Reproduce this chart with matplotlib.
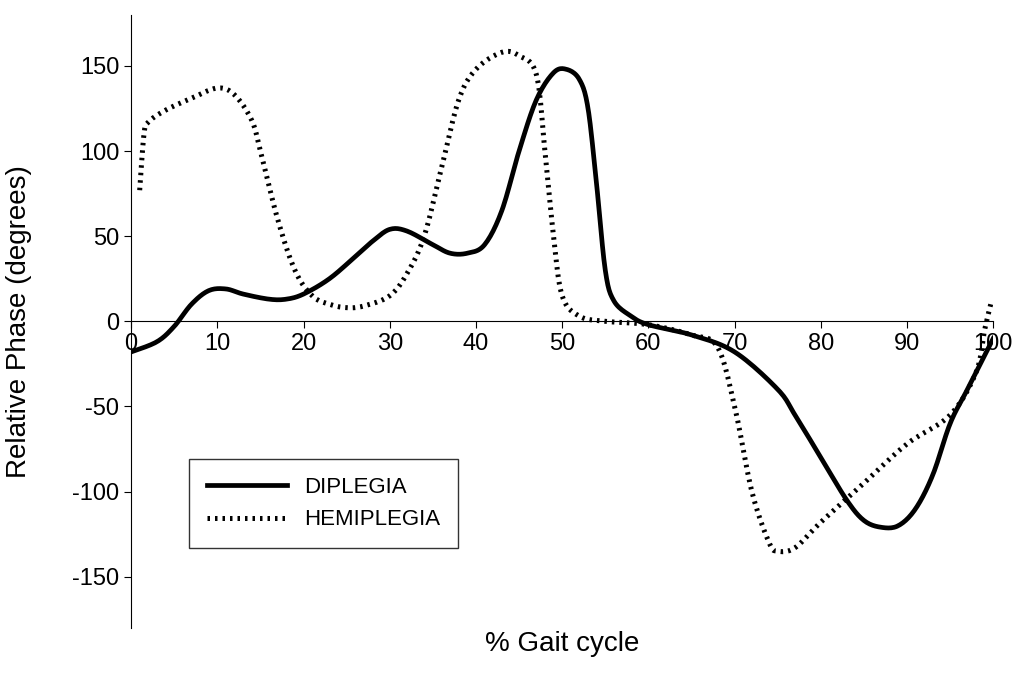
import matplotlib
matplotlib.use("Agg")
import matplotlib.pyplot as plt
import numpy as np

plt.rcParams['font.family'] = ['Liberation Sans', 'DejaVu Sans']

dip_x = [0, 3, 5, 7, 9, 11, 13, 16, 18, 20, 23, 26, 28, 30, 32, 35, 37, 39, 41, 43, 45, 47, 49, 50.5, 52, 53, 54, 55, 56, 58, 60, 65, 70, 75, 77, 80, 83, 85, 87, 89, 91, 93, 95, 97, 100]
dip_y = [-18, -12, -3, 10, 18, 19, 16, 13, 13, 16, 25, 38, 47, 54, 53, 45, 40, 40, 45, 65, 100, 130, 146, 148, 142, 125, 80, 30, 12, 3, -2, -8, -18, -40, -55, -80, -105, -117, -121, -120, -110, -90, -60, -40, -10]
hem_x = [1, 1.5, 2, 4, 7, 10, 12, 14, 15, 17, 19, 21, 23, 25, 27, 30, 32, 34, 36, 38, 40, 43, 45, 47, 48, 49, 50, 52, 55, 60, 65, 68, 70, 72, 74, 75, 77, 80, 85, 90, 95, 98, 99, 99.7]
hem_y = [77, 110, 117, 124, 131, 137, 133, 118, 100, 60, 30, 15, 10, 8, 9, 15, 28, 50, 90, 130, 148, 158, 156, 145, 100, 50, 15, 3, 0, -2, -8, -15, -50, -100, -130, -135, -133, -118, -95, -72, -55, -30, -5, 10]
x_ticks = [0, 10, 20, 30, 40, 50, 60, 70, 80, 90, 100]
y_ticks = [-150, -100, -50, 0, 50, 100, 150]


def smooth(xs, ys, n=12):
    """Catmull-Rom rendering of the read points."""
    p = np.column_stack([xs, ys]).astype(float)
    p = np.vstack([p[0], p, p[-1]])
    out = []
    t = np.linspace(0, 1, n, endpoint=False)[:, None]
    for i in range(1, len(p) - 2):
        p0, p1, p2, p3 = p[i - 1], p[i], p[i + 1], p[i + 2]
        seg = 0.5 * ((2 * p1) + (-p0 + p2) * t + (2 * p0 - 5 * p1 + 4 * p2 - p3) * t ** 2
                     + (-p0 + 3 * p1 - 3 * p2 + p3) * t ** 3)
        out.append(seg)
    out.append(p[-2][None, :])
    out = np.vstack(out)
    return out[:, 0], out[:, 1]


fig = plt.figure(figsize=(10.24, 6.75), dpi=100)
ax = fig.add_axes([0.128, 0.07, 0.842, 0.908])
ax.plot(*smooth(dip_x, dip_y), color='black', lw=3.4, label='DIPLEGIA')
ax.plot(*smooth(hem_x, hem_y), color='black', lw=3.6, ls=(0, (0.5, 1.0)), label='HEMIPLEGIA')
ax.set_xlim(0, 100)
ax.set_ylim(-180, 180)
ax.spines['top'].set_visible(False)
ax.spines['right'].set_visible(False)
ax.spines['bottom'].set_position(('data', 0))
ax.set_xticks(x_ticks)
ax.set_yticks(y_ticks)
ax.set_yticklabels([str(v) for v in y_ticks])
ax.tick_params(axis='both', labelsize=17, direction='out', length=5)
ax.set_ylabel('Relative Phase (degrees)', fontsize=20)
ax.yaxis.set_label_coords(-0.115, 0.5)
ax.set_xlabel('% Gait cycle', fontsize=20)
ax.xaxis.set_label_coords(0.5, -0.005)
leg = ax.legend(loc='lower left', bbox_to_anchor=(0.067, 0.13), fontsize=16,
                frameon=True, fancybox=False, edgecolor='black', handlelength=3.6,
                borderpad=0.8, borderaxespad=0)
leg.get_frame().set_linewidth(1)
fig.savefig('out.png', dpi=100)
